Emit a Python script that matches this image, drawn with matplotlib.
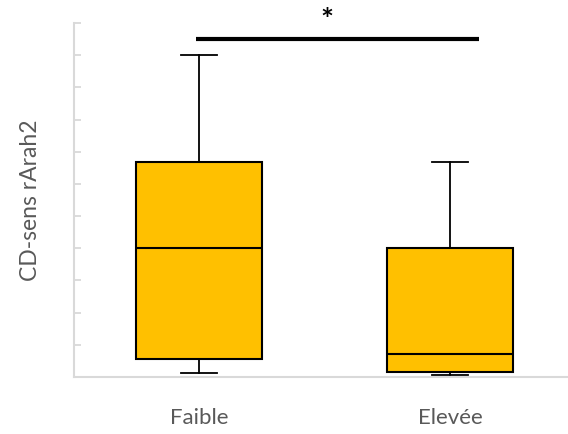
import matplotlib
matplotlib.use("Agg")
import matplotlib.pyplot as plt

groups = ["Faible", "Elevée"]
whislo = [0.13, 0.05]
q1 = [0.57, 0.16]
med = [4.0, 0.73]
q3 = [6.68, 4.0]
whishi = [10.0, 6.68]
sig_y = 10.5
sig_label = "*"

plt.rcParams["font.family"] = ["Lato", "DejaVu Sans"]

fig = plt.figure(figsize=(5.68, 4.34), dpi=100)
ax = fig.add_axes([0.1303, 0.1313, 0.8697, 0.8157])

stats = []
for i, name in enumerate(groups):
    stats.append({"label": name, "whislo": whislo[i], "q1": q1[i], "med": med[i],
                  "q3": q3[i], "whishi": whishi[i], "fliers": []})

ax.bxp(stats, positions=[0, 1], widths=0.5, capwidths=0.147, patch_artist=True,
       showfliers=False,
       boxprops=dict(facecolor="#FFC000", edgecolor="black", linewidth=1.5),
       medianprops=dict(color="black", linewidth=1.5),
       whiskerprops=dict(color="black", linewidth=1.3),
       capprops=dict(color="black", linewidth=1.3))

# significance bar
ax.plot([-0.012, 1.115], [sig_y, sig_y], color="black", linewidth=3, clip_on=False,
        solid_capstyle="butt")
ax.text(0.51, sig_y + 0.55, sig_label, ha="center", va="center", fontsize=22,
        fontweight="bold", clip_on=False)

ax.set_xlim(-0.498, 1.47)
ax.set_ylim(0, 11)
ax.set_yticks(range(0, 12))
ax.set_yticklabels([])
ax.tick_params(axis="y", direction="in", length=5, width=1.3, colors="#d9d9d9")
ax.tick_params(axis="x", length=0, pad=22, labelsize=16, labelcolor="#595959")
ax.set_xticks([0, 1])
ax.set_xticklabels(groups)
for s in ["top", "right"]:
    ax.spines[s].set_visible(False)
for s in ["left", "bottom"]:
    ax.spines[s].set_color("#d9d9d9")
    ax.spines[s].set_linewidth(1.5)
ax.set_ylabel("CD-sens rArah2", fontsize=16.5, color="#595959", labelpad=20)

fig.savefig("out.png", dpi=100)
